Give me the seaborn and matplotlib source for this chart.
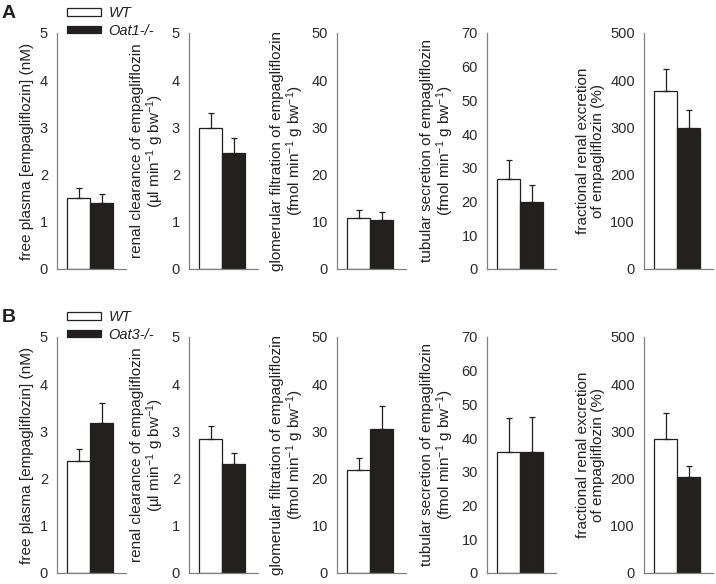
import numpy as np
import pandas as pd
import matplotlib
matplotlib.use("Agg")
import matplotlib.pyplot as plt
from matplotlib.patches import Patch
import seaborn as sns

sns.set_theme(style="white")
plt.rcParams["font.family"] = ["Liberation Sans", "DejaVu Sans"]
plt.rcParams["mathtext.fontset"] = "custom"
plt.rcParams["mathtext.rm"] = "Liberation Sans"
plt.rcParams["mathtext.it"] = "Liberation Sans:italic"
plt.rcParams["mathtext.default"] = "regular"

# ---------------- data ----------------
panel_letters = ["A", "B"]
groups_A = ["WT", "Oat1-/-"]
groups_B = ["WT", "Oat3-/-"]

ylabels = [
    "free plasma [empagliflozin] (nM)",
    "renal clearance of empagliflozin\n(µl min$^{-1}$ g bw$^{-1}$)",
    "glomerular filtration of empagliflozin\n(fmol min$^{-1}$ g bw$^{-1}$)",
    "tubular secretion of empagliflozin\n(fmol min$^{-1}$ g bw$^{-1}$)",
    "fractional renal excretion\nof empagliflozin (%)",
]
ymax = [5, 5, 50, 70, 500]
ystep = [1, 1, 10, 10, 100]

wt_mean_A = [1.51, 2.98, 10.85, 26.6, 377]
wt_err_A = [0.21, 0.33, 1.65, 5.8, 47]
ko_mean_A = [1.40, 2.46, 10.3, 19.8, 298]
ko_err_A = [0.18, 0.31, 1.7, 5.1, 39]

wt_mean_B = [2.37, 2.84, 21.9, 35.9, 283]
wt_err_B = [0.26, 0.28, 2.5, 10.0, 55]
ko_mean_B = [3.18, 2.30, 30.6, 35.8, 204]
ko_err_B = [0.43, 0.24, 4.8, 10.6, 23]

# ---------------- layout ----------------
W, H = 716, 584
fig = plt.figure(figsize=(W / 100, H / 100), dpi=100)

lefts_px = [57, 189, 337, 487, 644]
width_px = 69
row_bottom_px = [269, 573]
height_px = 236

dark = "#231f20"
gray = "#808080"

rows = [
    (groups_A, wt_mean_A, wt_err_A, ko_mean_A, ko_err_A),
    (groups_B, wt_mean_B, wt_err_B, ko_mean_B, ko_err_B),
]

for r, (groups, wm, we, km, ke) in enumerate(rows):
    for i in range(5):
        ax = fig.add_axes([
            lefts_px[i] / W,
            1 - row_bottom_px[r] / H,
            width_px / W,
            height_px / H,
        ])
        df = pd.DataFrame({
            "x": ["", ""],
            "group": groups,
            "mean": [wm[i], km[i]],
            "err": [we[i], ke[i]],
        })
        sns.barplot(data=df, x="x", y="mean", hue="group", hue_order=groups,
                    palette=["white", dark], edgecolor=dark, linewidth=0.9,
                    errorbar=None, legend=False, ax=ax, width=0.8, gap=0)
        for cont, g in zip(ax.containers, groups):
            bar = cont[0]
            xc = bar.get_x() + bar.get_width() / 2
            err = df.loc[df.group == g, "err"].values[0]
            ax.errorbar([xc], [bar.get_height()], yerr=[[0], [err]],
                        fmt="none", ecolor=dark, elinewidth=0.9,
                        capsize=2.3, capthick=0.9, zorder=1)
        ax.set_xlim(-0.574, 0.626)
        ax.set_ylim(0, ymax[i])
        ax.set_yticks(np.arange(0, ymax[i] + ystep[i] / 2, ystep[i]))
        ax.set_xticks([])
        ax.set_xlabel("")
        ax.set_ylabel(ylabels[i], fontsize=11, color=dark, labelpad=4,
                      linespacing=1.05)
        for s in ["top", "right"]:
            ax.spines[s].set_visible(False)
        for s in ["left", "bottom"]:
            ax.spines[s].set_color(gray)
            ax.spines[s].set_linewidth(0.9)
        ax.tick_params(axis="y", direction="out", length=3.5, width=0.9,
                       color=gray, labelsize=10.5, labelcolor="#2a2a2a", pad=3)
        ax.set_facecolor("none")
        if i == 0:
            handles = [Patch(facecolor="white", edgecolor=dark, linewidth=0.9),
                       Patch(facecolor=dark, edgecolor=dark, linewidth=0.9)]
            top_px = row_bottom_px[r] - height_px - 27
            ax.legend(handles, groups, loc="upper left",
                      bbox_to_anchor=(67 / W, 1 - top_px / H),
                      bbox_transform=fig.transFigure, frameon=False,
                      prop={"style": "italic", "size": 10.5},
                      handlelength=2.3, handleheight=0.45, handletextpad=0.55,
                      labelspacing=0.25, borderpad=0, borderaxespad=0,
                      labelcolor=dark)
    fig.text(2 / W, 1 - (row_bottom_px[r] - height_px - 28) / H,
             panel_letters[r], fontsize=14, fontweight="bold", color=dark,
             va="top", ha="left")

fig.savefig("out.png", dpi=100, facecolor="white")
